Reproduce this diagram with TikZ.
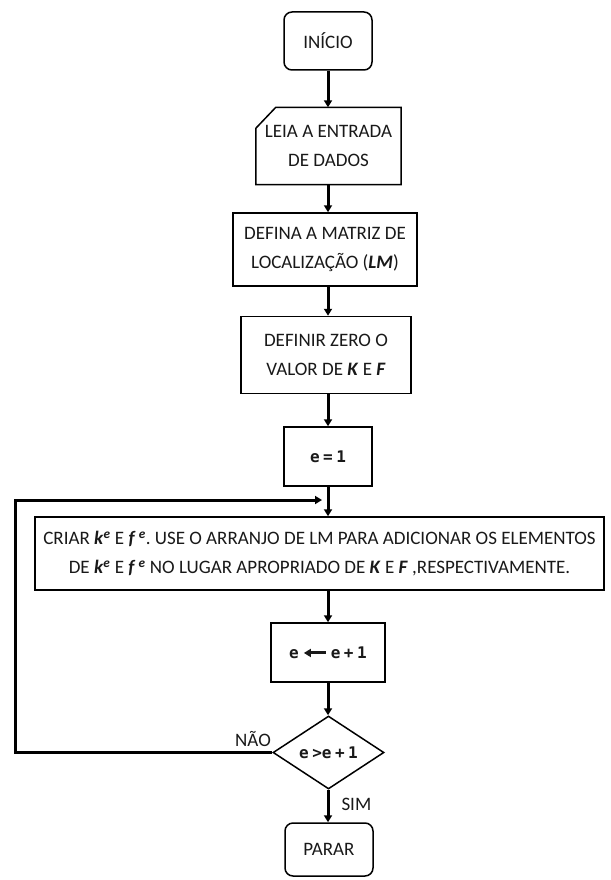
\documentclass[tikz,border=0pt]{standalone}
\usepackage{fontspec}
\setmainfont{Carlito}
\newfontfamily\monob{DejaVu Sans Mono}
\usetikzlibrary{arrows.meta,shapes.geometric}
\newcommand{\bi}[1]{\textbf{\textit{#1}}}
\newcommand{\supe}{\textsuperscript{\bi{e}}}
\newcommand{\gp}{\hspace{3.5pt}}
\frenchspacing
\begin{document}
\begin{tikzpicture}[x=1pt,y=-1pt,
  every node/.style={font=\fontsize{19}{29}\selectfont, text=black!90, align=center, inner sep=0pt},
  boxs/.style={draw=black, line width=1.5pt, rectangle},
  term/.style={boxs, rounded corners=8pt},
  conn/.style={line width=3pt, -{Triangle[length=7pt,width=8pt]}},
  monotxt/.style={font=\monob\bfseries\fontsize{16}{18}\selectfont}]
\useasboundingbox[fill=white] (0,0) rectangle (610,880);

\node[term, minimum width=88pt, minimum height=58pt] (start) at (328,41) {INÍCIO};
\node[minimum width=145pt, minimum height=77pt] (leia) at (328.5,146) {LEIA A ENTRADA\\DE DADOS};
\draw[line width=1.5pt] ([xshift=20pt]leia.north west) -- (leia.north east) -- (leia.south east) -- (leia.south west) -- ([yshift=-21pt]leia.north west) -- cycle;
\node[boxs, minimum width=184pt, minimum height=73pt] (defina) at (325,249.5) {DEFINA A MATRIZ DE\\LOCALIZAÇÃO (\bi{LM})};
\node[boxs, minimum width=170pt, minimum height=77pt] (definir) at (326,355) {DEFINIR ZERO O\\VALOR DE \bi{K} E \bi{F}};
\node[boxs, minimum width=88pt, minimum height=59pt, monotxt] (e1) at (328,456.5) {e\gp=\gp1};
\node[boxs, minimum width=569pt, minimum height=73pt] (wide) at (319.5,553.5) {CRIAR \bi{k}\supe{} E \bi{f}\,\supe. USE O ARRANJO DE LM PARA ADICIONAR OS ELEMENTOS\\DE \bi{k}\supe{} E \bi{f}\,\supe{} NO LUGAR APROPRIADO DE \bi{K} E \bi{F} ,RESPECTIVAMENTE.};
\node[boxs, minimum width=114pt, minimum height=59pt, monotxt] (inc) at (328,652.5) {e\gp\tikz[baseline=-0.6ex]\draw[line width=3pt,-{Triangle[length=7pt,width=8pt]}] (22pt,0pt)--(0pt,0pt);\gp e\gp+\gp1};
\node[draw=black, line width=1.5pt, diamond, aspect=1.52, minimum width=111pt, minimum height=73pt, monotxt] (dec) at (328.5,752.5) {e\gp>e\gp+\gp1};
\node[term, minimum width=88pt, minimum height=53pt] (parar) at (329,849.5) {PARAR};

\node (nao) at (253,739) {NÃO};
\coordinate (loopend) at (322,500);

\draw[conn] (start.south) -- (leia.north -| start.south);
\draw[conn] (leia.south -| start.south) -- (defina.north -| start.south);
\draw[conn] (defina.south -| start.south) -- (definir.north -| start.south);
\draw[conn] (definir.south -| start.south) -- (e1.north -| start.south);
\draw[conn] (e1.south -| start.south) -- (wide.north -| start.south);
\draw[conn] (wide.south -| start.south) -- (inc.north -| start.south);
\draw[conn] (inc.south -| start.south) -- (dec.north -| start.south);
\draw[conn] (dec.south -| start.south) -- node[right=12pt, pos=0.45] {SIM} (parar.north -| start.south);
\draw[line width=3pt, -{Triangle[length=7pt,width=8pt]}] (dec.west) -- ++(-257,0) |- (loopend);
\end{tikzpicture}
\end{document}
